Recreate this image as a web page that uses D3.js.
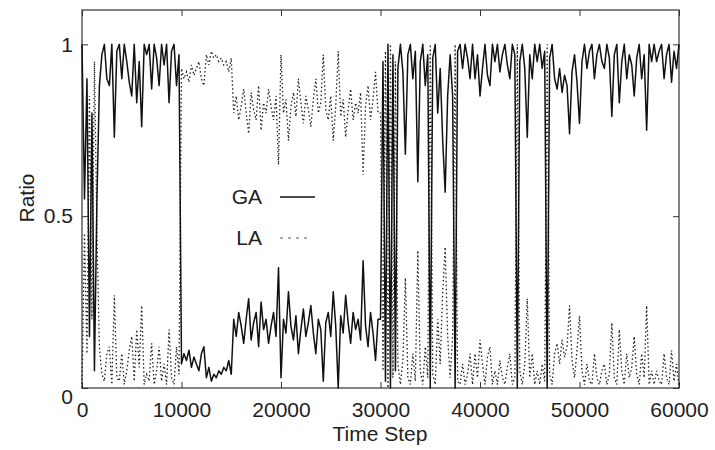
<!DOCTYPE html>
<html>
<head>
<meta charset="utf-8">
<script src="https://cdn.jsdelivr.net/npm/d3@7"></script>
<style>
  body { margin: 0; background: #fff; }
  svg text { font-family: "Liberation Sans", Arial, sans-serif; fill: #222; }
</style>
</head>
<body>
<svg width="715" height="450"></svg>
<script>
// sampled every 250 time steps, 0 .. 60000
const stepSize = 250;

const gaRatio = [
  1.0, 0.55, 0.9, 0.15, 0.8, 0.05, 0.55, 0.88, 0.97, 1.0,
  0.9, 0.88, 1.0, 0.73, 0.98, 1.0, 0.9, 1.0, 0.95, 0.89,
  0.85, 1.0, 0.83, 0.95, 0.76, 1.0, 0.97, 1.0, 0.87, 1.0,
  0.96, 0.88, 1.0, 0.94, 1.0, 0.83, 0.98, 1.0, 0.88, 0.97,
  0.07, 0.1, 0.08, 0.11, 0.06, 0.09, 0.07, 0.05, 0.1, 0.12,
  0.03, 0.06, 0.02, 0.04, 0.03, 0.05, 0.04, 0.06, 0.05, 0.08,
  0.04, 0.2, 0.15, 0.22, 0.18, 0.13, 0.2, 0.26, 0.14, 0.19,
  0.22, 0.12, 0.25, 0.17, 0.2, 0.13, 0.18, 0.22, 0.15, 0.35,
  0.03, 0.2, 0.16, 0.28, 0.18, 0.14, 0.21, 0.1, 0.17, 0.23,
  0.15, 0.19, 0.24, 0.16, 0.1, 0.2, 0.17, 0.02, 0.19, 0.22,
  0.15, 0.28, 0.18, 0.0, 0.21, 0.16, 0.27, 0.19, 0.13, 0.22,
  0.17, 0.2, 0.14, 0.37, 0.18, 0.12, 0.22, 0.16, 0.08, 0.2,
  0.2, 0.95, 0.02, 1.0, 0.0, 0.97, 0.05, 0.93, 1.0, 0.92,
  0.68, 0.97, 1.0, 0.9, 0.98, 0.6, 0.95, 1.0, 0.88, 0.97,
  0.0, 0.96, 1.0, 0.8, 0.93, 0.72, 0.57, 0.85, 0.97, 0.85,
  0.0, 0.98, 1.0, 0.93, 1.0, 0.96, 0.9, 1.0, 0.9, 0.97,
  0.85, 0.93, 1.0, 0.91, 0.88, 1.0, 0.95, 1.0, 0.92, 0.97,
  1.0, 0.94, 0.9, 1.0, 0.97, 0.0, 0.95, 1.0, 0.93, 0.73,
  0.97, 0.9, 1.0, 0.95, 1.0, 0.93, 0.98, 0.0, 0.96, 1.0,
  0.9, 0.87, 0.93, 0.86, 0.91, 0.88, 0.74, 0.92, 0.97, 0.89,
  0.77, 0.95, 1.0, 0.93, 0.98, 1.0, 0.9, 0.97, 1.0, 0.95,
  0.93, 1.0, 0.96, 0.79, 0.97, 1.0, 0.83, 0.95, 1.0, 0.9,
  0.97, 0.94, 0.85, 0.96, 1.0, 0.9, 0.97, 0.75, 1.0, 0.95,
  1.0, 0.95, 0.98, 1.0, 0.9, 0.97, 1.0, 0.89, 0.98, 0.93, 1.0
];

const laRatio = [
  0.0, 0.45, 0.1, 0.85, 0.2, 0.95, 0.45, 0.12, 0.04, 0.02,
  0.1, 0.12, 0.01, 0.27, 0.03, 0.02, 0.1, 0.01, 0.05, 0.11,
  0.15, 0.02, 0.17, 0.06, 0.24, 0.01, 0.04, 0.02, 0.13, 0.01,
  0.05, 0.12, 0.02, 0.07, 0.01, 0.17, 0.03, 0.01, 0.12, 0.04,
  0.93, 0.9, 0.92, 0.89, 0.94, 0.91, 0.93, 0.95, 0.9, 0.88,
  0.97, 0.94, 0.98, 0.96, 0.97, 0.95, 0.96, 0.94, 0.95, 0.92,
  0.96, 0.8, 0.85, 0.78, 0.82, 0.87, 0.8, 0.74, 0.86, 0.81,
  0.78, 0.88, 0.75, 0.83, 0.8, 0.87, 0.82, 0.78, 0.85, 0.65,
  0.97, 0.8, 0.84, 0.72, 0.82, 0.86, 0.79, 0.9, 0.83, 0.77,
  0.85, 0.81, 0.76, 0.84, 0.9, 0.8, 0.83, 0.97, 0.81, 0.78,
  0.85, 0.72, 0.82, 0.98, 0.79, 0.84, 0.73, 0.81, 0.87, 0.78,
  0.83, 0.8, 0.86, 0.62, 0.82, 0.88, 0.78, 0.84, 0.92, 0.8,
  0.8, 0.05, 0.98, 0.0, 1.0, 0.03, 0.95, 0.07, 0.01, 0.08,
  0.32, 0.03, 0.01, 0.1, 0.02, 0.4, 0.05, 0.01, 0.12, 0.03,
  1.0, 0.04, 0.01, 0.2, 0.07, 0.28, 0.41, 0.15, 0.03, 0.15,
  1.0, 0.02, 0.01, 0.07, 0.01, 0.04, 0.1, 0.01, 0.1, 0.03,
  0.14, 0.07, 0.01, 0.09, 0.12, 0.01, 0.05, 0.01, 0.08, 0.03,
  0.01, 0.06, 0.1, 0.01, 0.03, 1.0, 0.05, 0.01, 0.07, 0.26,
  0.03, 0.1, 0.01, 0.05, 0.01, 0.07, 0.02, 1.0, 0.04, 0.01,
  0.1, 0.13, 0.07, 0.14, 0.09, 0.12, 0.24, 0.08, 0.03, 0.11,
  0.21, 0.05, 0.01, 0.07, 0.02, 0.01, 0.1, 0.03, 0.01, 0.05,
  0.07, 0.01, 0.04, 0.19, 0.03, 0.01, 0.17, 0.05, 0.01, 0.1,
  0.03, 0.06, 0.15, 0.04, 0.01, 0.1, 0.03, 0.24, 0.01, 0.05,
  0.01, 0.05, 0.02, 0.01, 0.1, 0.03, 0.01, 0.11, 0.02, 0.07, 0.0
];

const xTicks = [0, 10000, 20000, 30000, 40000, 50000, 60000];
const yTicks = [0, 0.5, 1];
const seriesNames = ["GA", "LA"];

const svg = d3.select("svg");

const plotLeft = 82, plotRight = 679, plotTop = 10, plotBottom = 388;

const x = d3.scaleLinear()
    .domain([0, 60000])
    .range([plotLeft, plotRight]);

const y = d3.scaleLinear()
    .domain([0, 1.1])
    .range([plotBottom, plotTop]);

// ticks on all four sides, pointing inward
svg.append("g")
    .attr("transform", "translate(0," + plotBottom + ")")
    .call(d3.axisBottom(x).tickValues(xTicks).tickSize(-6).tickPadding(14).tickFormat(d3.format("d")))
    .call(g => g.select(".domain").remove());

svg.append("g")
    .attr("transform", "translate(0," + plotTop + ")")
    .call(d3.axisTop(x).tickValues(xTicks).tickSize(-6).tickFormat(""))
    .call(g => g.select(".domain").remove());

let yAxis = svg.append("g")
    .attr("transform", "translate(" + plotLeft + ",0)")
    .call(d3.axisLeft(y).tickValues(yTicks).tickSize(-6).tickPadding(9).tickFormat(d => d))
    .call(g => g.select(".domain").remove());

svg.append("g")
    .attr("transform", "translate(" + plotRight + ",0)")
    .call(d3.axisRight(y).tickValues(yTicks).tickSize(-6).tickFormat(""))
    .call(g => g.select(".domain").remove());

svg.selectAll(".tick line").attr("stroke", "#333");
svg.selectAll(".tick text")
    .attr("font-size", 21)
    .attr("fill", "#222")
    .style("font-family", "'Liberation Sans', Arial, sans-serif");

// the y "0" sits a bit lower, like the original
yAxis.selectAll(".tick text")
    .filter(d => d === 0)
    .attr("dy", "0.75em");

svg.append("rect")
    .attr("x", plotLeft)
    .attr("y", plotTop)
    .attr("width", plotRight - plotLeft)
    .attr("height", plotBottom - plotTop)
    .attr("fill", "none")
    .attr("stroke", "#333")
    .attr("stroke-width", 1.2);

const line = d3.line()
    .x((d, i) => x(i * stepSize))
    .y(d => y(d));

svg.append("path")
    .datum(laRatio)
    .attr("d", line)
    .attr("fill", "none")
    .attr("stroke", "#222")
    .attr("stroke-width", 1.3)
    .attr("stroke-dasharray", "1.5,2.5");

svg.append("path")
    .datum(gaRatio)
    .attr("d", line)
    .attr("fill", "none")
    .attr("stroke", "#111")
    .attr("stroke-width", 1.5)
    .attr("stroke-linejoin", "round");

// legend
const legend = svg.append("g");

seriesNames.forEach(function(name, i) {
    let ly = 197 + i * 41;
    legend.append("text")
        .attr("x", 262)
        .attr("y", ly)
        .attr("dy", "0.35em")
        .attr("text-anchor", "end")
        .attr("font-size", 21)
        .text(name);
    legend.append("line")
        .attr("x1", 280)
        .attr("x2", i == 0 ? 315 : 308)
        .attr("y1", ly)
        .attr("y2", ly)
        .attr("stroke", i == 0 ? "#111" : "#555")
        .attr("stroke-width", i == 0 ? 1.5 : 1)
        .attr("stroke-dasharray", i == 0 ? null : "3,5");
});

svg.append("text")
    .attr("x", 380)
    .attr("y", 441)
    .attr("text-anchor", "middle")
    .attr("font-size", 21)
    .text("Time Step");

svg.append("text")
    .attr("transform", "translate(34,198) rotate(-90)")
    .attr("text-anchor", "middle")
    .attr("font-size", 21)
    .text("Ratio");
</script>
</body>
</html>
